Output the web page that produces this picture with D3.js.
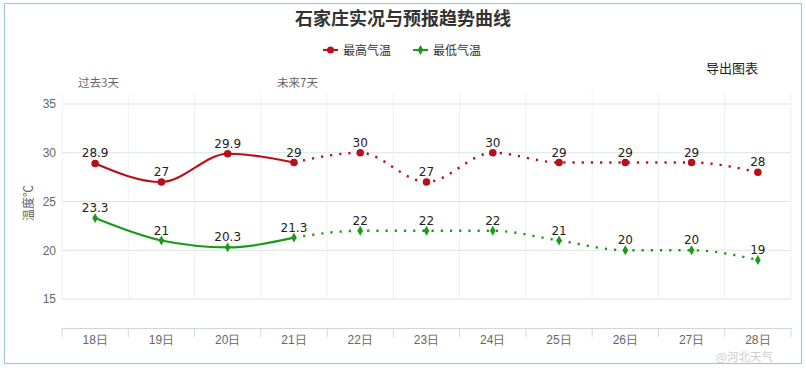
<!DOCTYPE html>
<html><head><meta charset="utf-8">
<script src="https://cdn.jsdelivr.net/npm/d3@7"></script>
<style>
body{margin:0;background:#fff;}
svg{display:block;font-family:"Noto Sans CJK SC","Noto Sans",sans-serif;}
</style></head>
<body>
<svg id="c" width="806" height="368"></svg>
<script>
const days = ["18日","19日","20日","21日","22日","23日","24日","25日","26日","27日","28日"];
const highTemps = [28.9, 27, 29.9, 29, 30, 27, 30, 29, 29, 29, 28];
const lowTemps = [23.3, 21, 20.3, 21.3, 22, 22, 22, 21, 20, 20, 19];
const yTicks = [15, 20, 25, 30, 35];
const pastCount = 4; // 18-21 observed (solid), 21 onward forecast (dotted)
const seriesNames = ["最高气温", "最低气温"];
const seriesColors = ["#b8101a", "#1a9a1a"];

const svg = d3.select("#c");
svg.append("rect").attr("x",4.5).attr("y",3.5).attr("width",797).attr("height",360)
  .attr("fill","none").attr("stroke","#9cc8e0").attr("stroke-width",1.2);

const x = d3.scaleBand().domain(days).range([62, 791]);
const y = d3.scaleLinear().domain([15, 35]).range([299, 104]);
const plotTop = 93;

svg.append("g").selectAll("line").data(yTicks).join("line")
  .attr("x1",62).attr("x2",791).attr("y1",d=>y(d)).attr("y2",d=>y(d))
  .attr("stroke","#dde3e8").attr("stroke-width",1);
const bounds = days.map(d=>x(d)).concat([x.range()[1]]);
svg.append("g").selectAll("line").data(bounds).join("line")
  .attr("x1",d=>d).attr("x2",d=>d).attr("y1",plotTop).attr("y2",299)
  .attr("stroke","#eef0f2").attr("stroke-width",1);

const yAxis = d3.axisLeft(y).tickValues(yTicks).tickSize(0).tickPadding(6);
const gy = svg.append("g").attr("transform","translate(62,0)").call(yAxis);
gy.select(".domain").remove();
gy.selectAll("text").attr("fill","#666").attr("font-size",12);

svg.append("text").attr("transform","translate(33,203) rotate(-90)")
  .attr("text-anchor","middle").attr("font-size",12).attr("fill","#666").text("温度℃");

const xAxis = d3.axisBottom(x).tickSize(0).tickPadding(7);
const gx = svg.append("g").attr("transform","translate(0,328)").call(xAxis);
gx.select(".domain").attr("stroke","#ccd6e0");
gx.selectAll("text").attr("fill","#666").attr("font-size",12);
svg.append("g").selectAll("line").data(bounds).join("line")
  .attr("x1",d=>d).attr("x2",d=>d).attr("y1",328).attr("y2",337)
  .attr("stroke","#ccd6e0");

svg.append("text").attr("x",78).attr("y",87).attr("font-size",11.5).attr("fill","#666").text("过去3天");
svg.append("text").attr("x",277).attr("y",87).attr("font-size",11.5).attr("fill","#666").text("未来7天");

svg.append("text").attr("x",403).attr("y",25).attr("text-anchor","middle")
  .attr("font-size",18).attr("font-weight","bold").attr("fill","#333").text("石家庄实况与预报趋势曲线");

svg.append("text").attr("x",706).attr("y",73).attr("font-size",13).attr("fill","#222").text("导出图表");

const legX = [323, 413];
seriesNames.forEach((n,i)=>{
  const g = svg.append("g");
  g.append("line").attr("x1",legX[i]).attr("x2",legX[i]+15).attr("y1",50).attr("y2",50)
    .attr("stroke",seriesColors[i]).attr("stroke-width",2);
  if(i===0) g.append("circle").attr("cx",legX[i]+7.5).attr("cy",50).attr("r",3.5).attr("fill",seriesColors[i]);
  else g.append("path").attr("d",d3.symbol(d3.symbolDiamond,30)()).attr("transform",`translate(${legX[i]+7.5},50)`).attr("fill",seriesColors[i]);
  g.append("text").attr("x",legX[i]+20).attr("y",54.5).attr("font-size",12).attr("fill","#333").text(n);
});

const cx = d => x(d) + x.bandwidth()/2;
const line = d3.line().x(d=>cx(d.day)).y(d=>y(d.v)).curve(d3.curveMonotoneX);

[highTemps, lowTemps].forEach((vals,i)=>{
  const pts = days.map((d,j)=>({day:d, v:vals[j]}));
  const col = seriesColors[i];
  svg.append("path").attr("d", line(pts.slice(0,pastCount)))
    .attr("fill","none").attr("stroke",col).attr("stroke-width",2.2);
  svg.append("path").attr("d", line(pts.slice(pastCount-1)))
    .attr("fill","none").attr("stroke",col).attr("stroke-width",2.4)
    .attr("stroke-dasharray","2.2,7");
  const g = svg.append("g");
  if(i===0){
    g.selectAll("circle").data(pts).join("circle")
      .attr("cx",d=>cx(d.day)).attr("cy",d=>y(d.v)).attr("r",3.8).attr("fill",col);
  } else {
    g.selectAll("path").data(pts).join("path")
      .attr("d",d3.symbol(d3.symbolDiamond,28)())
      .attr("transform",d=>`translate(${cx(d.day)},${y(d.v)})`).attr("fill",col);
  }
  svg.append("g").selectAll("text").data(pts).join("text")
    .attr("x",d=>cx(d.day)).attr("y",d=>y(d.v)-6).attr("text-anchor","middle")
    .attr("font-size",12).attr("fill","#222").attr("font-family","'DejaVu Sans',sans-serif")
    .text(d=>d.v);
});

svg.append("text").attr("x",716).attr("y",361).attr("font-size",11.5).attr("fill","#c4c4c4")
  .attr("opacity",0.85).text("@河北天气");
</script>
</body></html>
